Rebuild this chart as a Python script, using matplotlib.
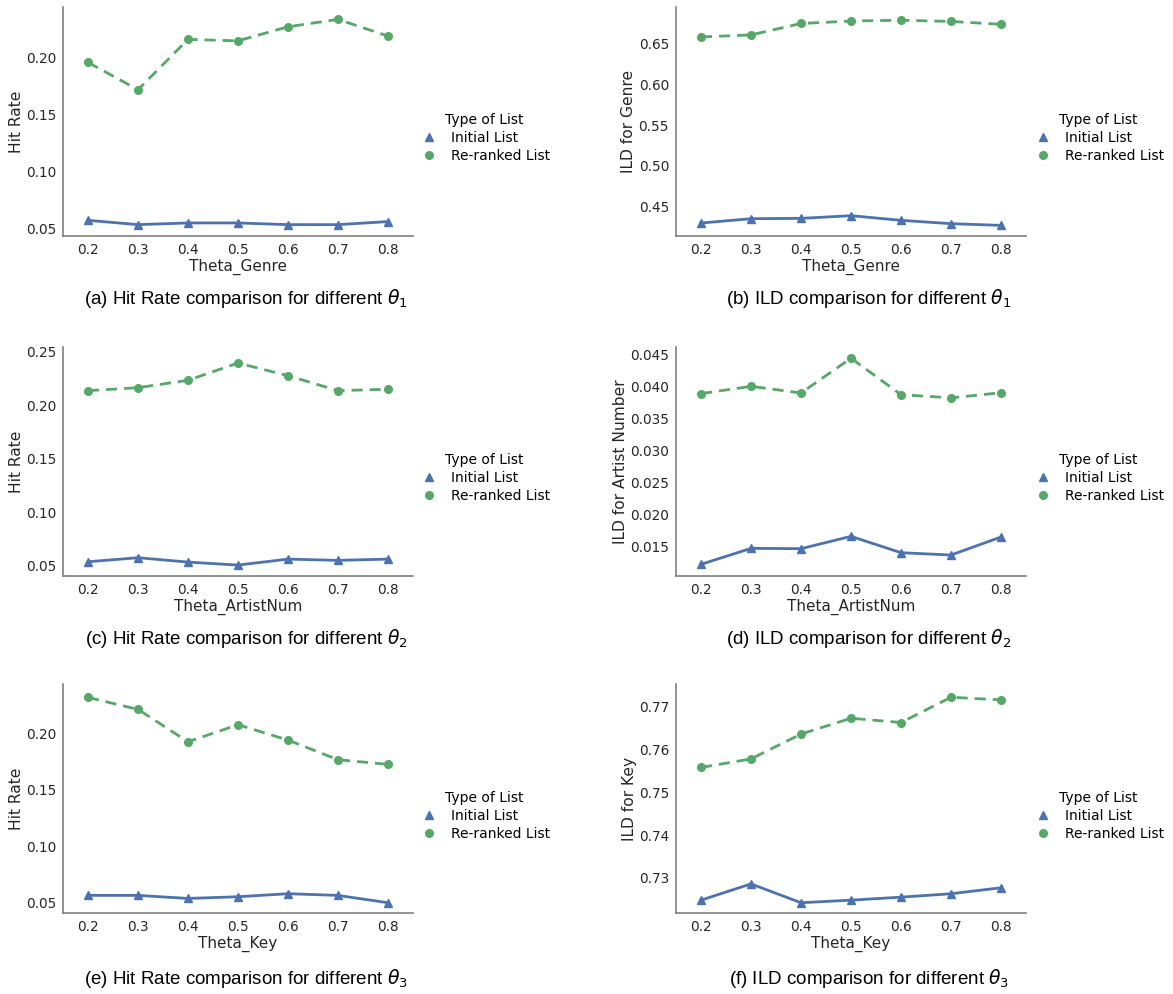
import matplotlib
matplotlib.use("Agg")
import matplotlib.pyplot as plt
from matplotlib.lines import Line2D

thetas = ["0.2", "0.3", "0.4", "0.5", "0.6", "0.7", "0.8"]

a_initial = [0.0570, 0.0532, 0.0547, 0.0547, 0.0532, 0.0532, 0.0559]
a_reranked = [0.1960, 0.1720, 0.2163, 0.2150, 0.2274, 0.2339, 0.2192]

b_initial = [0.4300, 0.4353, 0.4357, 0.4390, 0.4333, 0.4292, 0.4271]
b_reranked = [0.6580, 0.6605, 0.6745, 0.6775, 0.6785, 0.6770, 0.6735]

c_initial = [0.0537, 0.0575, 0.0534, 0.0506, 0.0562, 0.0550, 0.0562]
c_reranked = [0.2136, 0.2164, 0.2233, 0.2394, 0.2276, 0.2136, 0.2149]

d_initial = [0.01225, 0.01474, 0.01469, 0.01661, 0.01406, 0.01370, 0.01651]
d_reranked = [0.03886, 0.04000, 0.03896, 0.04438, 0.03870, 0.03820, 0.03900]

e_initial = [0.0565, 0.0565, 0.0538, 0.0553, 0.0580, 0.0565, 0.0500]
e_reranked = [0.2319, 0.2213, 0.1926, 0.2077, 0.1941, 0.1767, 0.1726]

f_initial = [0.7248, 0.7286, 0.7242, 0.7248, 0.7255, 0.7263, 0.7277]
f_reranked = [0.7558, 0.7578, 0.7636, 0.7673, 0.7663, 0.7722, 0.7716]

xlabels = ["Theta_Genre", "Theta_Genre", "Theta_ArtistNum", "Theta_ArtistNum", "Theta_Key", "Theta_Key"]
ylabels = ["Hit Rate", "ILD for Genre", "Hit Rate", "ILD for Artist Number", "Hit Rate", "ILD for Key"]
captions = [r"(a) Hit Rate comparison for different $\theta_1$",
            r"(b) ILD comparison for different $\theta_1$",
            r"(c) Hit Rate comparison for different $\theta_2$",
            r"(d) ILD comparison for different $\theta_2$",
            r"(e) Hit Rate comparison for different $\theta_3$",
            r"(f) ILD comparison for different $\theta_3$"]
legend_title = "Type of List"
series_names = ["Initial List", "Re-ranked List"]

initials = [a_initial, b_initial, c_initial, d_initial, e_initial, f_initial]
rerankeds = [a_reranked, b_reranked, c_reranked, d_reranked, e_reranked, f_reranked]

# axis limits
ylims = [(0.0432, 0.2448), (0.4141, 0.6947), (0.0404, 0.2544),
         (0.01043, 0.04613), (0.0409, 0.2438), (0.7218, 0.7753)]

BLUE = "#4C72B0"
GREEN = "#55A868"
TXT = "#262626"

W, H = 1173, 994
fig = plt.figure(figsize=(W / 100, H / 100), dpi=100)

lefts = [63, 676]
bottoms = [236, 576, 913]
tops = [7, 347, 684]
aw = 350
cap_x = [246, 869]
cap_y = [299, 639, 978]
leg_y = [138, 478, 816]
leg_x = [412, 1026]

for i in range(6):
    r, c = divmod(i, 2)
    ah = bottoms[r] - tops[r]
    ax = fig.add_axes([lefts[c] / W, 1 - bottoms[r] / H, aw / W, ah / H])
    xs = list(range(len(thetas)))
    ax.plot(xs, initials[i], color=BLUE, lw=2.0, ls="-", marker="^", ms=5.5)
    ax.plot(xs, rerankeds[i], color=GREEN, lw=2.0, ls=(0, (4, 2.5)), marker="o", ms=5.5)
    ax.set_xlim(-0.5, len(thetas) - 0.5)
    ax.set_xticks(xs)
    ax.set_xticklabels(thetas)
    ax.set_ylim(*ylims[i])
    for s in ["top", "right"]:
        ax.spines[s].set_visible(False)
    for s in ["left", "bottom"]:
        ax.spines[s].set_color("0.5")
        ax.spines[s].set_linewidth(1.2)
    ax.tick_params(axis="y", length=0, labelsize=9.8, colors=TXT, pad=5)
    ax.tick_params(axis="x", length=0, labelsize=9.8, colors=TXT, pad=5)
    ax.set_xlabel(xlabels[i], fontsize=11, color=TXT, labelpad=1)
    ax.set_ylabel(ylabels[i], fontsize=11.2, color=TXT, labelpad=1.5)
    fig.text(cap_x[c] / W, 1 - cap_y[r] / H, captions[i], ha="center", va="center",
             fontsize=13.5, family="Liberation Sans", color="black")
    handles = [Line2D([], [], color=BLUE, marker="^", ls="none", ms=5.5),
               Line2D([], [], color=GREEN, marker="o", ls="none", ms=5.5)]
    fig.legend(handles, series_names, title=legend_title, loc="center left",
               bbox_to_anchor=(leg_x[c] / W, 1 - leg_y[r] / H), frameon=False,
               fontsize=10, title_fontsize=10, handletextpad=0.8, labelspacing=0.3,
               handlelength=1.5, borderpad=0)

fig.savefig("out.png", dpi=100)
